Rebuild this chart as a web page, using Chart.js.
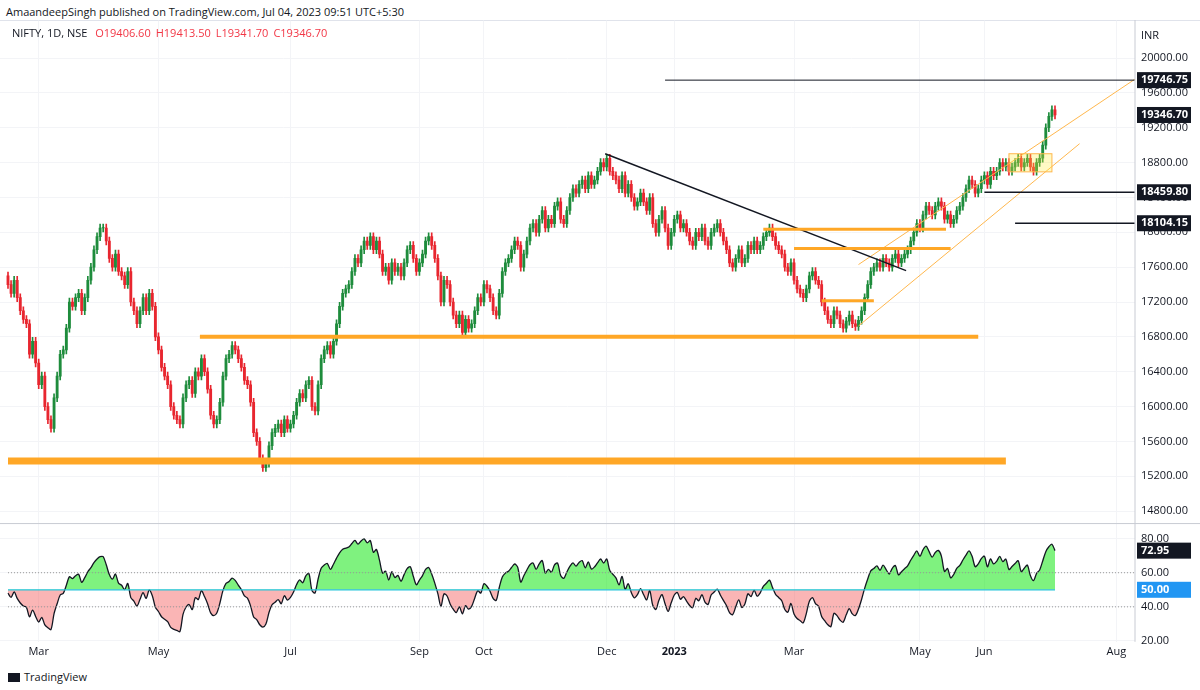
<!DOCTYPE html>
<html>
<head>
<meta charset="utf-8">
<script src="https://cdn.jsdelivr.net/npm/chart.js@4.4.0/dist/chart.umd.min.js"></script>
<style>
  body { margin: 0; width: 1200px; height: 690px; background: #fff; font-family: "Open Sans", "Liberation Sans", sans-serif; overflow: hidden; position: relative; }
  #pub { position: absolute; left: 6px; top: 4px; font-size: 11px; color: #131722; }
  #frame { position: absolute; left: 0; top: 20px; width: 1200px; height: 645px; border-top: 1px solid #e0e3eb; }
  #head { position: absolute; left: 12px; top: 25px; font-size: 11px; color: #131722; z-index: 2; }
  #head span { color: #f23645; margin-left: 5px; }
  #inr { position: absolute; left: 1141px; top: 27px; font-size: 11px; color: #131722; z-index: 2; }
  #wrap { position: absolute; left: 0; top: 8px; width: 1200px; height: 653px; }
  #foot { position: absolute; left: 8px; top: 669px; font-size: 11px; color: #131722; }
  #foot b { display: inline-block; width: 12px; height: 9px; background: #131722; margin-right: 4px; vertical-align: -1px; }
</style>
</head>
<body>
<div id="pub">AmaandeepSingh published on TradingView.com, Jul 04, 2023 09:51 UTC+5:30</div>
<div id="frame"></div>
<div id="wrap"><canvas id="c"></canvas></div>
<div id="head">NIFTY, 1D, NSE <span>O19406.60</span><span>H19413.50</span><span>L19341.70</span><span>C19346.70</span></div>
<div id="inr">INR</div>
<div id="foot"><b></b>TradingView</div>
<script>
// Cierres diarios NIFTY (Feb 2022 - Jul 2023)
const closes = [
  17400,17300,17450,17250,17100,17000,16950,16600,16750,16500,16250,16350,16000,15850,15750,16100,16350,16600,16650,
  16900,17200,17150,17250,17300,17100,17250,17450,17600,17800,17950,18050,
  18050,17900,17700,17600,17750,17550,17500,17400,17550,17200,17100,16950,17100,17250,17100,17300,17150,16800,16650,
  16450,16350,16250,16000,15900,15850,15800,16100,16250,16300,16150,16400,16350,
  16550,16400,16200,15900,15800,15850,16050,16350,16550,16600,16700,16650,16550,16450,16300,16250,16050,15700,15600,15400,15300,
  15350,15550,15700,15750,15800,15700,15850,15750,15800,15900,16050,
  16150,16100,16250,16300,16000,15950,16250,16550,16650,16700,16600,16750,16950,17150,17300,17350,
  17400,17550,17700,17650,17800,17900,17850,17950,17800,17900,17750,17550,17600,17450,17650,17550,
  17600,17500,17650,17800,17850,17700,17550,17650,17750,17900,17950,17850,17700,17500,17200,17450,
  17400,17200,17050,16950,17050,16850,17000,16900,16950,17100,17250,
  17200,17400,17350,17250,17100,17050,17300,17550,17650,17700,17800,17900,17850,17600,17750,17900,
  18050,18100,18000,18150,18250,18050,18150,18100,18300,18350,18150,18100,18250,18400,18500,18450,18550,18600,18500,18650,18550,18600,18700,18800,18750,
  18850,18700,18650,18600,18500,18650,18450,18550,18400,18300,18350,18450,18350,18250,18400,18100,18000,18150,18250,18050,17850,18000,18150,18200,18050,
  18100,18000,17900,17850,18000,17950,18050,17900,17850,18000,18050,18100,18000,17900,17800,17650,17600,17700,
  17800,17650,17700,17850,17800,17900,17800,17850,17950,18000,18050,17950,17850,17800,17750,17600,17550,17650,
  17450,17350,17300,17250,17350,17500,17550,17450,17400,17200,17100,17000,16950,17100,17050,16950,16900,16980,17050,16950,16920,16990,
  17100,17250,17400,17550,17600,17650,17600,17700,17650,17600,17700,17750,17650,17700,17750,17800,
  17900,18000,18100,18050,18200,18300,18250,18200,18300,18350,18300,18150,18200,18100,18150,18250,18300,
  18400,18500,18600,18550,18450,18500,18600,18650,18550,18700,18650,18700,18800,18750,18800,18700,
  18750,18800,18850,18750,18800,18850,18750,18700,18800,18850,19000,19200,19330,19406,19346
];
const N = closes.length;
const wick = 45;

// Etiquetas de meses (índice de vela)
const monthIdx = [10, 49, 92, 134, 155, 195, 217, 256, 297, 318, 361];
const monthLbl = ["Mar", "May", "Jul", "Sep", "Oct", "Dec", "2023", "Mar", "May", "Jun", "Aug"];
const priceTicks = [14800,15200,15600,16000,16400,16800,17200,17600,18000,18400,18800,19200,19600,20000];
const rsiTicks = [20, 40, 60, 80];

// Dibujos: niveles horizontales y líneas de tendencia [x1, y1, x2, y2]
const orangeLevels = [[62.5,16800,316,16800,4],[0,15375,325,15375,7],[246,18035,305.5,18035,3],[256,17815,307,17815,3],[265,17214,282,17214,3]];
const blackLines = [[194.5,18902,292.5,17560,1.5],[214,19746.75,367,19746.75,1],[318,18459.8,367,18459.8,1.5],[328,18104.15,367,18104.15,1.5]];
const channel = [[277,17630,367,19757],[277,16925,349,19017]];
const boxZone = [326, 340, 18694, 18902];
const priceMarks = [[19746.75,"19746.75"],[19346.70,"19346.70"],[18459.80,"18459.80"],[18104.15,"18104.15"]];

// Velas: apertura = cierre anterior
const opens = closes.map((c, i) => (i === 0 ? 17500 : closes[i - 1]));
const colors = closes.map((c, i) => (c >= opens[i] ? "#1e8c3c" : "#e8262f"));
const bodies = closes.map((c, i) => ({ x: i, y: [opens[i], c === opens[i] ? c + 5 : c] }));
const wicks = closes.map((c, i) => ({ x: i, y: [Math.min(c, opens[i]) - wick, Math.max(c, opens[i]) + wick] }));

// RSI 14 (Wilder), con medias iniciales sembradas
function rsi(vals, p) {
  const out = [48];
  let ag = 90, al = 100;
  for (let i = 1; i < vals.length; i++) {
    const d = vals[i] - vals[i - 1];
    ag = (ag * (p - 1) + Math.max(d, 0)) / p;
    al = (al * (p - 1) + Math.max(-d, 0)) / p;
    out.push(al === 0 ? 100 : 100 - 100 / (1 + ag / al));
  }
  return out;
}
const rsiVals = rsi(closes, 14);

const range = (N - 1) * 1135 / 1047;
const xMin = -8 * range / 1135;

function seg(a, color, w, axis) {
  return { type: "line", data: [{ x: a[0], y: a[1] }, { x: a[2], y: a[3] }], borderColor: color, borderWidth: w,
    pointRadius: 0, yAxisID: axis || "y", fill: false, order: 0 };
}
const datasets = [
  { type: "bar", data: wicks, backgroundColor: colors, barThickness: 1, yAxisID: "y", order: 3 },
  { type: "bar", data: bodies, backgroundColor: colors, barThickness: 2.2, yAxisID: "y", order: 2 },
];
orangeLevels.forEach((a) => datasets.push(seg(a, "#ffa726", a[4])));
blackLines.forEach((a) => datasets.push(seg(a, "#131722", a[4])));
channel.forEach((a) => datasets.push(seg(a, "#ffb74d", 1)));
datasets.push({ type: "line", data: rsiVals.map((v, i) => ({ x: i, y: v })), yAxisID: "yRsi", borderColor: "#131722",
  borderWidth: 1.3, pointRadius: 0, tension: 0.3,
  fill: { target: { value: 50 }, above: "rgba(0,230,0,0.5)", below: "rgba(245,90,90,0.45)" }, order: 1 });
datasets.push(seg([0, 60, 367, 60], "#999", 1, "yRsi"));
datasets[datasets.length - 1].borderDash = [1, 2];
datasets.push(seg([0, 40, 367, 40], "#999", 1, "yRsi"));
datasets[datasets.length - 1].borderDash = [1, 2];
datasets.push(seg([0, 50, N - 1, 50], "#26c6da", 1.2, "yRsi"));

const overlay = {
  id: "overlay",
  afterDatasetsDraw(chart) {
    const { ctx, scales } = chart;
    const x = scales.x, y = scales.y, r = scales.yRsi;
    ctx.save();
    ctx.fillStyle = "rgba(255,235,59,0.3)";
    ctx.strokeStyle = "#ffb74d";
    ctx.lineWidth = 1;
    const bx = x.getPixelForValue(boxZone[0]), bw = x.getPixelForValue(boxZone[1]) - bx;
    const by = y.getPixelForValue(boxZone[3]), bh = y.getPixelForValue(boxZone[2]) - by;
    ctx.fillRect(bx, by, bw, bh);
    ctx.strokeRect(bx, by, bw, bh);
    // separador
    ctx.strokeStyle = "#c8cbd3";
    ctx.beginPath();
    ctx.moveTo(0, y.bottom + 2); ctx.lineTo(1200, y.bottom + 2);
    ctx.moveTo(y.left, 12); ctx.lineTo(y.left, r.bottom);
    ctx.stroke();
    ctx.font = "bold 11px 'Open Sans', sans-serif";
    ctx.textBaseline = "middle";
    const tag = (yy, txt, bg) => {
      ctx.fillStyle = bg;
      ctx.fillRect(y.left + 2, yy - 8, 54, 16);
      ctx.fillStyle = "#fff";
      ctx.fillText(txt, y.left + 6, yy);
    };
    priceMarks.forEach((m) => tag(y.getPixelForValue(m[0]), m[1], "#131722"));
    tag(r.getPixelForValue(rsiVals[N - 1]), rsiVals[N - 1].toFixed(2), "#131722");
    tag(r.getPixelForValue(50), "50.00", "#2196f3");
    ctx.restore();
  },
};

const tickFont = { size: 11, family: "'Open Sans', sans-serif" };
new Chart(document.getElementById("c"), {
  data: { datasets },
  plugins: [overlay],
  options: {
    responsive: true, maintainAspectRatio: false, animation: false,
    layout: { padding: 0 },
    datasets: { bar: { grouped: false } },
    plugins: { legend: { display: false }, tooltip: { enabled: false } },
    scales: {
      x: {
        type: "linear", min: xMin, max: xMin + range, offset: false,
        afterBuildTicks: (s) => { s.ticks = monthIdx.map((v) => ({ value: v })); },
        ticks: {
          color: "#131722", font: (c) => ({ ...tickFont, weight: c.tick && c.tick.value === 217 ? "bold" : "normal" }),
          maxRotation: 0, callback: (v) => monthLbl[monthIdx.indexOf(v)] || "",
        },
        grid: { color: "#f3f4f7", drawTicks: false, offset: false }, border: { display: false },
      },
      y: {
        position: "right", stack: "p", stackWeight: 500, min: 14680, max: 20430,
        afterFit: (s) => { s.width = 65; },
        afterBuildTicks: (s) => { s.ticks = priceTicks.map((v) => ({ value: v })); },
        ticks: { color: "#131722", font: tickFont, padding: 6, callback: (v) => v.toFixed(2) },
        grid: { color: "#f3f4f7", drawTicks: false }, border: { display: false },
      },
      yRsi: {
        axis: "y", position: "right", stack: "p", stackWeight: 120, min: 19.5, max: 90,
        afterFit: (s) => { s.width = 65; },
        afterBuildTicks: (s) => { s.ticks = rsiTicks.map((v) => ({ value: v })); },
        ticks: { color: "#131722", font: tickFont, padding: 6, callback: (v) => v.toFixed(2) },
        grid: { color: "#f3f4f7", drawTicks: false }, border: { display: false },
      },
    },
  },
});
</script>
</body>
</html>
